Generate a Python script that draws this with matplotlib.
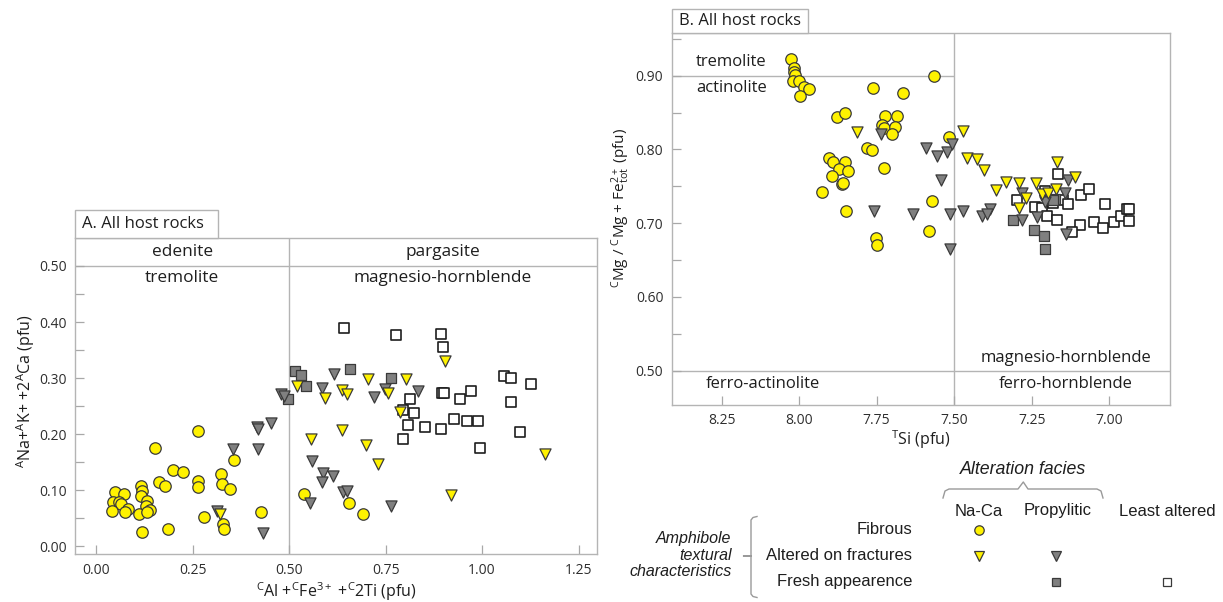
import matplotlib
matplotlib.use("Agg")
import matplotlib.pyplot as plt
from matplotlib.lines import Line2D
from matplotlib.patches import Rectangle

# ---------------- data ----------------
# Panel A: C(Al+Fe3+ +2Ti) vs A(Na+K)+2ACa
a_naca_fibrous_x = [0.048, 0.072, 0.044, 0.059, 0.064, 0.083, 0.041, 0.074, 0.116, 0.117,
                    0.116, 0.130, 0.128, 0.139, 0.110, 0.130, 0.117, 0.185, 0.162, 0.178,
                    0.264, 0.152, 0.198, 0.225, 0.264, 0.264, 0.322, 0.325, 0.346, 0.357,
                    0.280, 0.329, 0.331, 0.426, 0.539, 0.655, 0.690]
a_naca_fibrous_y = [0.096, 0.093, 0.079, 0.079, 0.076, 0.067, 0.063, 0.061, 0.107, 0.099,
                    0.089, 0.081, 0.071, 0.064, 0.058, 0.061, 0.026, 0.030, 0.115, 0.107,
                    0.205, 0.176, 0.136, 0.133, 0.116, 0.106, 0.129, 0.111, 0.102, 0.154,
                    0.052, 0.040, 0.030, 0.062, 0.094, 0.078, 0.057]

a_naca_fract_x = [0.521, 0.594, 0.638, 0.649, 0.703, 0.757, 0.803, 0.904, 0.787, 0.556,
                  0.638, 0.699, 0.729, 1.163, 0.919, 0.320]
a_naca_fract_y = [0.286, 0.264, 0.279, 0.271, 0.299, 0.274, 0.299, 0.331, 0.240, 0.192,
                  0.208, 0.180, 0.146, 0.165, 0.091, 0.058]

a_prop_fract_x = [0.355, 0.416, 0.418, 0.453, 0.418, 0.312, 0.431, 0.478, 0.487, 0.617,
                  0.584, 0.721, 0.748, 0.835, 0.560, 0.588, 0.614, 0.586, 0.640, 0.649,
                  0.554, 0.763]
a_prop_fract_y = [0.173, 0.212, 0.209, 0.220, 0.174, 0.0625, 0.024, 0.272, 0.268, 0.308,
                  0.282, 0.267, 0.280, 0.277, 0.152, 0.130, 0.126, 0.114, 0.097, 0.099,
                  0.078, 0.071]

a_prop_fresh_x = [0.515, 0.530, 0.543, 0.4975, 0.658, 0.763]
a_prop_fresh_y = [0.3125, 0.305, 0.286, 0.2625, 0.316, 0.301]

a_least_fresh_x = [0.643, 0.777, 0.893, 0.898, 1.057, 1.074, 1.127, 0.895, 0.900, 0.970,
                   0.943, 1.074, 0.813, 0.796, 0.823, 0.927, 0.960, 0.989, 0.809, 0.852,
                   0.893, 1.098, 0.796, 0.995]
a_least_fresh_y = [0.389, 0.376, 0.378, 0.355, 0.304, 0.301, 0.289, 0.274, 0.274, 0.277,
                   0.2625, 0.257, 0.262, 0.243, 0.238, 0.227, 0.224, 0.224, 0.216, 0.213,
                   0.210, 0.203, 0.191, 0.176]

# Panel B: TSi vs Mg#
b_naca_fibrous_x = [8.026, 8.016, 8.015, 8.013, 8.021, 7.999, 7.984, 7.968, 7.997, 7.564,
                    7.761, 7.664, 7.879, 7.852, 7.723, 7.683, 7.734, 7.726, 7.691, 7.701,
                    7.782, 7.766, 7.903, 7.892, 7.852, 7.870, 7.841, 7.895, 7.863, 7.860,
                    7.926, 7.726, 7.849, 7.753, 7.750, 7.570, 7.581, 7.516]
b_naca_fibrous_y = [0.923, 0.910, 0.905, 0.901, 0.893, 0.893, 0.885, 0.882, 0.872, 0.900,
                    0.883, 0.876, 0.844, 0.850, 0.845, 0.845, 0.833, 0.829, 0.830, 0.821,
                    0.802, 0.799, 0.788, 0.783, 0.783, 0.773, 0.771, 0.764, 0.753, 0.755,
                    0.742, 0.775, 0.717, 0.680, 0.671, 0.730, 0.689, 0.817]

b_naca_fract_x = [7.812, 7.470, 7.459, 7.427, 7.403, 7.365, 7.334, 7.291, 7.236, 7.268,
                  7.291, 7.169, 7.110, 7.217, 7.199, 7.171]
b_naca_fract_y = [0.824, 0.825, 0.789, 0.787, 0.772, 0.745, 0.756, 0.755, 0.754, 0.734,
                  0.720, 0.783, 0.762, 0.740, 0.741, 0.746]

b_prop_fract_x = [7.736, 7.591, 7.556, 7.524, 7.508, 7.543, 7.757, 7.632, 7.513, 7.470,
                  7.513, 7.411, 7.386, 7.394, 7.282, 7.282, 7.234, 7.207, 7.142, 7.132,
                  7.139]
b_prop_fract_y = [0.821, 0.802, 0.791, 0.797, 0.807, 0.758, 0.716, 0.712, 0.712, 0.717,
                  0.665, 0.710, 0.719, 0.712, 0.741, 0.705, 0.709, 0.729, 0.741, 0.758,
                  0.685]

b_prop_fresh_x = [7.311, 7.242, 7.209, 7.207, 7.174, 7.180]
b_prop_fresh_y = [0.704, 0.691, 0.683, 0.665, 0.733, 0.731]

b_least_fresh_x = [7.164, 7.298, 7.239, 7.217, 7.201, 7.207, 7.180, 7.150, 7.132, 7.092,
                   7.065, 7.013, 7.169, 7.094, 7.121, 7.049, 7.019, 6.986, 6.962, 6.943,
                   6.937, 6.935]
b_least_fresh_y = [0.767, 0.732, 0.722, 0.720, 0.710, 0.743, 0.727, 0.731, 0.726, 0.738,
                   0.746, 0.726, 0.704, 0.698, 0.688, 0.702, 0.694, 0.701, 0.710, 0.719,
                   0.719, 0.703]

a_xticks = [0.00, 0.25, 0.50, 0.75, 1.00, 1.25]
a_yticks = [0.00, 0.10, 0.20, 0.30, 0.40, 0.50]
b_xticks = [8.25, 8.00, 7.75, 7.50, 7.25, 7.00]
b_yticks = [0.50, 0.60, 0.70, 0.80, 0.90]

# ---------------- styling ----------------
plt.rcParams["font.family"] = ["Open Sans", "DejaVu Sans"]
plt.rcParams["mathtext.default"] = "regular"

W, H = 1223, 602
fig = plt.figure(figsize=(W / 100, H / 100), dpi=100)

FRAME = "#b4b4b4"
TXT = "#1e1e1e"
YELLOW = "#fff200"
GREY = "#808080"
EDGE = "#3a3a3a"


def fx(px):
    return px / W


def fy(py):
    return 1 - py / H


def rect(l, t, r, b):
    return [fx(l), fy(b), (r - l) / W, (b - t) / H]


def style_axes(ax):
    for sp in ax.spines.values():
        sp.set_color(FRAME)
        sp.set_linewidth(1.0)
    ax.tick_params(which="both", direction="in", length=6.5, width=0.9, color="#a8a8a8",
                   labelsize=10, labelcolor="#2e2e2e", pad=6)
    ax.tick_params(top=False, right=False)


series_style = [
    # (marker, size, face, zorder)
    ("s", 60, "white", 3),
    ("s", 60, GREY, 4),
    ("o", 68, YELLOW, 5),
    ("v", 64, GREY, 6),
    ("v", 64, YELLOW, 7),
]


def draw_points(ax, sets):
    for (xs, ys), (mk, s, fc, z) in zip(sets, series_style):
        ax.scatter(xs, ys, s=s, marker=mk, facecolor=fc,
                   edgecolor=EDGE if fc != "white" else "#1e1e1e",
                   linewidths=0.9 if fc != "white" else 1.2, zorder=z, clip_on=False)


# ---------------- panel A ----------------
axA = fig.add_axes(rect(75.4, 237.9, 596.8, 554.3))
style_axes(axA)
axA.set_xlim(-0.0544, 1.2974)
axA.set_ylim(-0.0143, 0.550)
axA.set_xticks(a_xticks)
axA.set_xticklabels([f"{v:.2f}" for v in a_xticks])
axA.set_yticks(a_yticks)
axA.set_yticklabels([f"{v:.2f}" for v in a_yticks])
axA.set_yticks([0.05, 0.15, 0.25, 0.35, 0.45], minor=True)
axA.axvline(0.5, color=FRAME, lw=1.0, zorder=1)
axA.axhline(0.5, color=FRAME, lw=1.0, zorder=1)
axA.text(0.2225, 0.524, "edenite", ha="center", va="center", fontsize=12.4, color=TXT)
axA.text(0.8985, 0.524, "pargasite", ha="center", va="center", fontsize=12.4, color=TXT)
axA.text(0.2225, 0.479, "tremolite", ha="center", va="center", fontsize=12.4, color=TXT)
axA.text(0.8985, 0.479, "magnesio-hornblende", ha="center", va="center", fontsize=12.4, color=TXT)
draw_points(axA, [(a_least_fresh_x, a_least_fresh_y), (a_prop_fresh_x, a_prop_fresh_y),
                  (a_naca_fibrous_x, a_naca_fibrous_y), (a_prop_fract_x, a_prop_fract_y),
                  (a_naca_fract_x, a_naca_fract_y)])
fig.text(fx(336), fy(592), r"$^{C}$Al +$^{C}$Fe$^{3+}$ +$^{C}$2Ti (pfu)", ha="center", va="center",
         fontsize=11.5, color=TXT)
fig.text(fx(26), fy(391), r"$^{A}$Na+$^{A}$K+ +2$^{A}$Ca (pfu)", ha="center", va="center",
         rotation=90, fontsize=11.5, color=TXT)

# ---------------- panel B ----------------
axB = fig.add_axes(rect(671.7, 33.3, 1170, 405))
style_axes(axB)
axB.set_xlim(8.411, 6.804)
axB.set_ylim(0.4535, 0.9575)
axB.set_xticks(b_xticks)
axB.set_xticklabels([f"{v:.2f}" for v in b_xticks])
axB.set_yticks(b_yticks)
axB.set_yticklabels([f"{v:.2f}" for v in b_yticks])
axB.set_yticks([0.55, 0.65, 0.75, 0.85, 0.95], minor=True)
axB.axvline(7.5, color=FRAME, lw=1.0, zorder=1)
axB.axhline(0.5, color=FRAME, lw=1.0, zorder=1)
axB.hlines(0.9, 8.411, 7.5, color=FRAME, lw=1.0, zorder=1)
axB.text(8.333, 0.918, "tremolite", ha="left", va="center", fontsize=12, color=TXT)
axB.text(8.333, 0.883, "actinolite", ha="left", va="center", fontsize=12, color=TXT)
axB.text(7.141, 0.517, "magnesio-hornblende", ha="center", va="center", fontsize=12, color=TXT)
axB.text(7.141, 0.482, "ferro-hornblende", ha="center", va="center", fontsize=12, color=TXT)
axB.text(8.116, 0.482, "ferro-actinolite", ha="center", va="center", fontsize=12, color=TXT)
draw_points(axB, [(b_least_fresh_x, b_least_fresh_y), (b_prop_fresh_x, b_prop_fresh_y),
                  (b_naca_fibrous_x, b_naca_fibrous_y), (b_prop_fract_x, b_prop_fract_y),
                  (b_naca_fract_x, b_naca_fract_y)])
fig.text(fx(921), fy(440), r"$^{T}$Si (pfu)", ha="center", va="center", fontsize=11.5, color=TXT)
fig.text(fx(621), fy(208), r"$^{C}$Mg / $^{C}$Mg + Fe$^{2+}_{tot}$ (pfu)", ha="center", va="center",
         rotation=90, fontsize=11, color=TXT)

# ---------------- panel title tabs ----------------
for (l, t, r, b, label) in [(75.4, 209.7, 217.5, 237.9, "A. All host rocks"),
                            (671.7, 9.0, 807.7, 33.3, "B. All host rocks")]:
    fig.patches.append(Rectangle((fx(l), fy(b)), (r - l) / W, (b - t) / H, transform=fig.transFigure,
                                 facecolor="white", edgecolor=FRAME, lw=1.0))
    fig.text(fx(l + 7), fy((t + b) / 2), label, ha="left", va="center", fontsize=12, color=TXT)

# ---------------- legend ----------------
LF = ["Liberation Sans", "DejaVu Sans"]
fig.text(fx(1023.3), fy(469), "Alteration facies", ha="center", va="center", fontsize=12.8,
         style="italic", family=LF, color=TXT)
brace_x = [943, 945, 949, 1018, 1023.3, 1028, 1097, 1101, 1103]
brace_y = [498, 491, 489, 489, 482, 489, 489, 491, 498]
fig.add_artist(Line2D([fx(v) for v in brace_x], [fy(v) for v in brace_y], transform=fig.transFigure,
                      color="#9a9a9a", lw=1.0))
for cx, name in [(978.7, "Na-Ca"), (1058, "Propylitic"), (1167, "Least altered")]:
    fig.text(fx(cx), fy(511), name, ha="center", va="center", fontsize=12, family=LF, color=TXT)
for cy, name in [(530, "Fibrous"), (555, "Altered on fractures"), (581.7, "Fresh appearence")]:
    fig.text(fx(912), fy(cy), name, ha="right", va="center", fontsize=12, family=LF, color=TXT)
for cy, name in [(538, "Amphibole"), (555, "textural"), (572, "characteristics")]:
    fig.text(fx(731.4), fy(cy), name, ha="right", va="center", fontsize=11.5, style="italic",
             family=LF, color=TXT)
bx = [757, 753, 751, 751, 743.5, 751, 751, 753, 757]
by = [516.5, 517.5, 520, 556, 556, 556, 594, 596.5, 597.5]
fig.add_artist(Line2D([fx(v) for v in bx], [fy(v) for v in by], transform=fig.transFigure,
                      color="#9a9a9a", lw=1.0))
for (cx, cy, mk, s, fc) in [(978.7, 530, "o", 46, YELLOW), (978.7, 556, "v", 44, YELLOW),
                            (1056, 556, "v", 44, GREY), (1056, 581.7, "s", 30, GREY),
                            (1167, 581.7, "s", 30, "white")]:
    fig.add_artist(Line2D([fx(cx)], [fy(cy)], transform=fig.transFigure, marker=mk, linestyle="none",
                          markersize=s ** 0.5, markerfacecolor=fc, markeredgecolor=EDGE,
                          markeredgewidth=0.9))

fig.savefig("out.png", dpi=100)
